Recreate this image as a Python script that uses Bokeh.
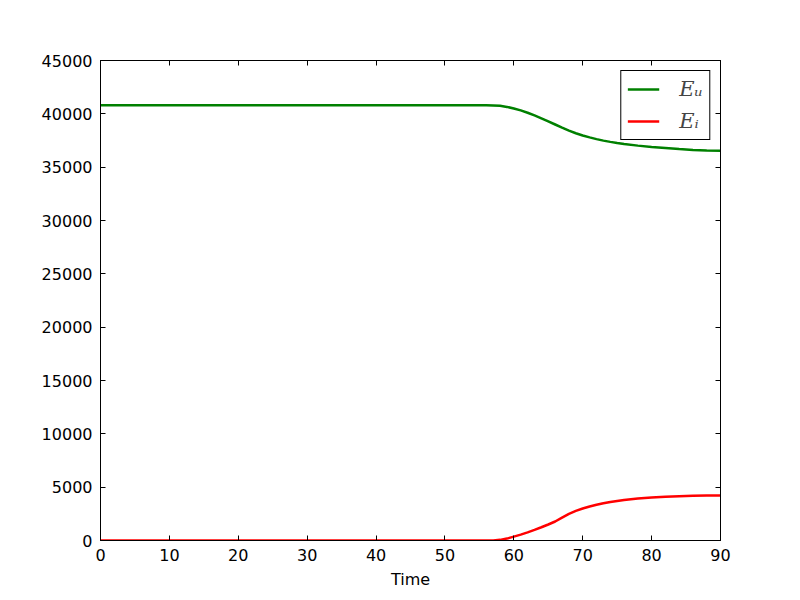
from bokeh.plotting import figure
from bokeh.models import (Range1d, LinearAxis, SingleIntervalTicker, Legend, LegendItem,
                          ColumnDataSource)
from bokeh.embed import file_html
from bokeh.resources import INLINE

time = [0, 56, 57, 58, 59, 60, 61, 62, 63, 64, 65, 66, 67, 68, 69, 70, 71, 72, 73, 74,
        75, 76, 78, 80, 82, 84, 86, 88, 90]
e_u = [40800, 40800, 40790, 40750, 40650, 40500, 40320, 40100, 39850, 39580, 39300, 39000,
       38700, 38420, 38180, 37970, 37790, 37630, 37490, 37370, 37260, 37170, 37020, 36900,
       36800, 36700, 36620, 36570, 36540]
e_i = [0, 0, 10, 60, 180, 360, 550, 760, 990, 1240, 1500, 1780, 2150, 2500, 2780, 3000,
       3190, 3350, 3490, 3610, 3710, 3800, 3930, 4040, 4110, 4160, 4190, 4210, 4220]
x_label = "Time"
labels = ["E\u1d64", "E\u1d62"]

src = ColumnDataSource(dict(t=time, eu=e_u, ei=e_i))

p = figure(frame_width=620, frame_height=480, output_backend="svg", toolbar_location=None,
           x_range=Range1d(0, 90), y_range=Range1d(0, 45000),
           min_border_left=100, min_border_right=72, min_border_top=60, min_border_bottom=52,
           x_axis_label=x_label)
p.background_fill_color = "white"
p.border_fill_color = "white"
p.outline_line_color = "black"
p.outline_line_width = 1
p.xgrid.visible = False
p.ygrid.visible = False

r1 = p.line("t", "eu", source=src, line_color="#008000", line_width=2.5)
r2 = p.line("t", "ei", source=src, line_color="#ff0000", line_width=2.5)

p.xaxis.ticker = SingleIntervalTicker(interval=10)
p.yaxis.ticker = SingleIntervalTicker(interval=5000)

for ax in [p.xaxis[0], p.yaxis[0]]:
    ax.major_tick_in = 5
    ax.major_tick_out = 0
    ax.minor_tick_line_color = None
    ax.axis_line_color = "black"
    ax.major_label_text_font = "DejaVu Sans"
    ax.major_label_text_font_size = "16px"
    ax.major_label_text_color = "black"
    ax.axis_label_text_font = "DejaVu Sans"
    ax.axis_label_text_font_size = "16px"
    ax.axis_label_text_font_style = "normal"
    ax.axis_label_text_color = "black"
    ax.major_label_standoff = 4

p.xaxis.axis_label_standoff = 6

top = LinearAxis(ticker=SingleIntervalTicker(interval=10), major_tick_in=5, major_tick_out=0,
                 minor_tick_line_color=None, major_label_text_font_size="0px",
                 major_label_text_alpha=0)
right = LinearAxis(ticker=SingleIntervalTicker(interval=5000), major_tick_in=5, major_tick_out=0,
                   minor_tick_line_color=None, major_label_text_font_size="0px",
                   major_label_text_alpha=0)
p.add_layout(top, "above")
p.add_layout(right, "right")

legend = Legend(items=[LegendItem(label=labels[0], renderers=[r1]),
                       LegendItem(label=labels[1], renderers=[r2])],
                location="top_right")
legend.margin = 10
legend.border_line_color = "black"
legend.border_line_alpha = 1
legend.border_line_width = 1
legend.background_fill_alpha = 1
legend.label_text_font = "DejaVu Serif"
legend.label_text_font_style = "italic"
legend.label_text_font_size = "21px"
legend.glyph_width = 32
legend.glyph_height = 20
legend.label_standoff = 20
legend.label_height = 20
legend.spacing = 8
legend.padding = 6
p.add_layout(legend)

open("out.html", "w").write(file_html(p, INLINE))
